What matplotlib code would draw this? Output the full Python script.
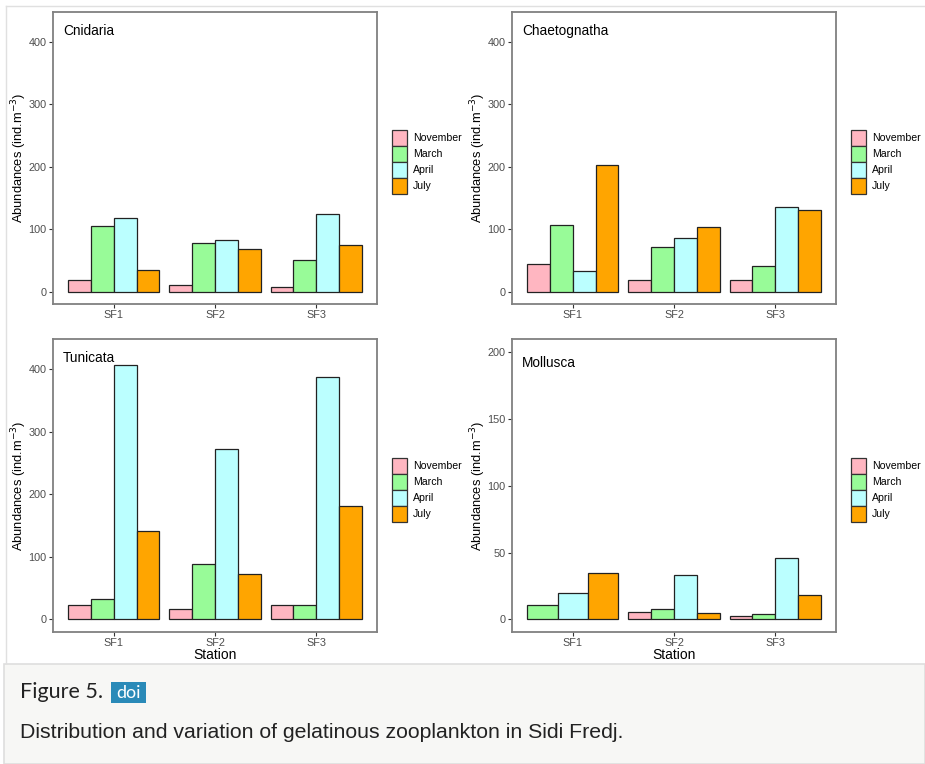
import matplotlib
matplotlib.use("Agg")
import matplotlib.pyplot as plt
import numpy as np
from matplotlib.patches import Patch, Rectangle
from matplotlib.lines import Line2D

plt.rcParams["font.family"] = ["Liberation Sans", "DejaVu Sans"]

stations = ["SF1", "SF2", "SF3"]
months = ["November", "March", "April", "July"]
colors = ["#ffb6c1", "#98fb98", "#bbffff", "#ffa500"]

# rows = months, columns = stations
cnidaria = [[18, 10, 7.5], [105, 77, 50], [118, 82, 125], [34, 68, 74]]
chaetognatha = [[44, 19, 19], [106, 72, 41], [33, 86, 135], [202, 104, 131]]
tunicata = [[23, 16, 23], [33, 88, 23], [406, 272, 388], [142, 72, 181]]
mollusca = [[np.nan, 5.5, 2.8], [10.5, 8, 4], [20, 33, 46], [35, 5, 18]]

W, H = 925, 764
fig = plt.figure(figsize=(W / 100, H / 100), dpi=100)
fig.patch.set_facecolor("white")

def px_axes(x0, y0, x1, y1):
    return fig.add_axes([x0 / W, 1 - y1 / H, (x1 - x0) / W, (y1 - y0) / H])

panels = [
    ("Cnidaria", cnidaria, (53, 12, 377, 304), (-20, 448), [0, 100, 200, 300, 400], 418, False, 130),
    ("Chaetognatha", chaetognatha, (512, 12, 836, 304), (-20, 448), [0, 100, 200, 300, 400], 418, False, 130),
    ("Tunicata", tunicata, (53, 339, 377, 632), (-20, 448), [0, 100, 200, 300, 400], 418, True, 458),
    ("Mollusca", mollusca, (512, 339, 836, 632), (-9.5, 210), [0, 50, 100, 150, 200], 192, True, 458),
]

for name, data, box, ylim, yticks, ytext, show_x, leg_top in panels:
    ax = px_axes(*box)
    vals = np.array(data, dtype=float)
    for j in range(len(stations)):
        present = [i for i in range(len(months)) if not np.isnan(vals[i, j])]
        n = len(present)
        bw = 0.9 / n
        for k, i in enumerate(present):
            xpos = j + 1 - 0.45 + bw * (k + 0.5)
            ax.bar(xpos, vals[i, j], width=bw, color=colors[i],
                   edgecolor="#222222", linewidth=0.9, zorder=3)
    ax.set_xlim(0.4, 3.6)
    ax.set_ylim(*ylim)
    ax.set_xticks([1, 2, 3])
    ax.set_xticklabels(stations)
    ax.set_yticks(yticks)
    ax.tick_params(axis="both", colors="#333333", labelcolor="#4d4d4d",
                   labelsize=7.8, length=3, width=0.8, direction="out", pad=1.5)
    for s in ax.spines.values():
        s.set_color("#808080")
        s.set_linewidth(1.3)
    ax.text(0.5, ytext, name, fontsize=9.8, ha="left", va="center", color="black")
    ax.set_ylabel("Abundances (ind.m$^{-3}$)", fontsize=9.3)
    ax.yaxis.set_label_coords(-24 / (box[2] - box[0]), 0.5)
    if show_x:
        ax.set_xlabel("Station", fontsize=10, labelpad=0)
    handles = [Patch(facecolor=c, edgecolor="#333333", linewidth=0.9) for c in colors]
    ax.legend(handles, months, loc="upper left", frameon=False, fontsize=7.6,
              bbox_to_anchor=((box[2] + 15) / W, 1 - leg_top / H),
              bbox_transform=fig.transFigure, borderpad=0, borderaxespad=0,
              handlelength=1.4, handleheight=1.95, labelspacing=0,
              handletextpad=0.6)

# frame lines of the figure image
fig.add_artist(Line2D([6 / W, 1], [1 - 6 / H, 1 - 6 / H], color="#e0e0e0", lw=1))
fig.add_artist(Line2D([6 / W, 6 / W], [1 - 6 / H, 1 - 663 / H], color="#e0e0e0", lw=1))

# caption box
fig.add_artist(Rectangle((4 / W, 0), (W - 4) / W, (H - 664) / H, transform=fig.transFigure,
                         facecolor="#f7f7f5", edgecolor="#dedede", lw=1.2))
fig.text(20 / W, 1 - 692 / H, "Figure 5.", fontsize=15.5, family="Lato",
         ha="left", va="center", color="#222222")
fig.add_artist(Rectangle((111 / W, 1 - 703 / H), 35 / W, 21 / H, transform=fig.transFigure,
                         facecolor="#2a8ab8", edgecolor="none"))
fig.text(128.5 / W, 1 - 692.5 / H, "doi", fontsize=13, family="Lato",
         ha="center", va="center", color="white")
fig.text(20 / W, 1 - 732 / H, "Distribution and variation of gelatinous zooplankton in Sidi Fredj.",
         fontsize=15.3, ha="left", va="center", color="#222222")

fig.savefig("out.png", dpi=100)
